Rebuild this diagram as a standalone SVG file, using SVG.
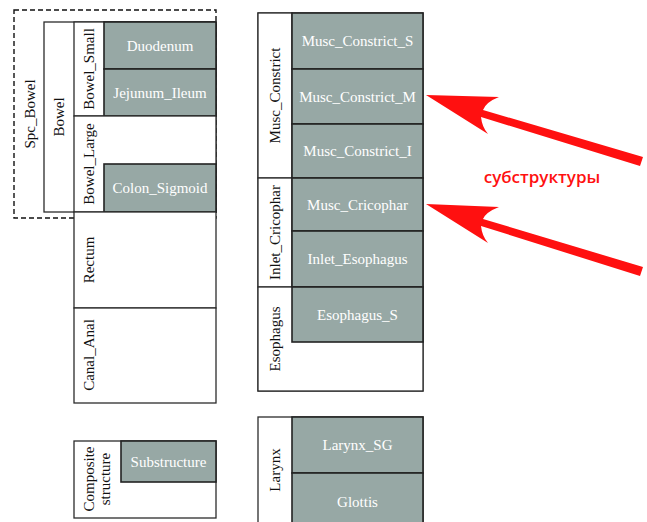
<svg xmlns="http://www.w3.org/2000/svg" width="647" height="522" viewBox="0 0 647 522">
<style>
.w{fill:#fff;stroke:#2b2b2b;stroke-width:1.3}
.g{fill:#97a8a5;stroke:#222;stroke-width:1.6}
.t{font-family:"Liberation Serif","DejaVu Serif",serif;font-size:15px;fill:#fff;text-anchor:middle;dominant-baseline:central}
.l{font-family:"Liberation Serif","DejaVu Serif",serif;font-size:15px;fill:#111;text-anchor:middle;dominant-baseline:central}
.a{fill:#ff1010}
</style>
<rect width="647" height="522" fill="#fff"/>
<g id="spc_bowel">
<rect x="14" y="10" width="202" height="208" fill="none" stroke="#111" stroke-width="1.4" stroke-dasharray="5,3"/>
<text class="l" transform="translate(30,114) rotate(-90)">Spc_Bowel</text>
</g>
<g id="bowel">
<rect class="w" x="44" y="22" width="172" height="190"/>
<text class="l" transform="translate(59,117) rotate(-90)">Bowel</text>
</g>
<g id="bowel_small">
<rect class="w" x="74" y="22" width="142" height="94"/>
<text class="l" transform="translate(89,69) rotate(-90)">Bowel_Small</text>
</g>
<g id="duodenum"><rect class="g" x="104" y="22" width="112" height="47"/><text class="t" x="160" y="45.5">Duodenum</text></g>
<g id="jejunum_ileum"><rect class="g" x="104" y="69" width="112" height="47"/><text class="t" x="160" y="92.5">Jejunum_Ileum</text></g>
<g id="bowel_large">
<rect class="w" x="74" y="116" width="142" height="96"/>
<text class="l" transform="translate(89,164) rotate(-90)">Bowel_Large</text>
</g>
<g id="colon_sigmoid"><rect class="g" x="104" y="164" width="112" height="48"/><text class="t" x="160" y="188">Colon_Sigmoid</text></g>
<g id="rectum">
<rect class="w" x="74" y="212" width="142" height="96"/>
<text class="l" transform="translate(89,260) rotate(-90)">Rectum</text>
</g>
<g id="canal_anal">
<rect class="w" x="74" y="308" width="142" height="95"/>
<text class="l" transform="translate(89,355) rotate(-90)">Canal_Anal</text>
</g>
<g id="composite_structure">
<rect class="w" x="74" y="441" width="142" height="77"/>
<text class="l" transform="translate(89,479) rotate(-90)">Composite</text>
<text class="l" transform="translate(105,479) rotate(-90)">structure</text>
</g>
<g id="substructure"><rect class="g" x="121" y="441" width="95" height="41"/><text class="t" x="168.5" y="461.5">Substructure</text></g>

<g id="outer_right"><rect class="w" x="258" y="13" width="165" height="378"/></g>
<g id="musc_constrict">
<rect class="w" x="258" y="13" width="34" height="165"/>
<text class="l" transform="translate(275,95.5) rotate(-90)">Musc_Constrict</text>
</g>
<g id="musc_constrict_s"><rect class="g" x="292" y="13" width="131" height="56"/><text class="t" x="357.5" y="41">Musc_Constrict_S</text></g>
<g id="musc_constrict_m"><rect class="g" x="292" y="69" width="131" height="55"/><text class="t" x="357.5" y="96.5">Musc_Constrict_M</text></g>
<g id="musc_constrict_i"><rect class="g" x="292" y="124" width="131" height="54"/><text class="t" x="357.5" y="151">Musc_Constrict_I</text></g>
<g id="inlet_cricophar">
<rect class="w" x="258" y="178" width="34" height="109"/>
<text class="l" transform="translate(275,232.5) rotate(-90)">Inlet_Cricophar</text>
</g>
<g id="musc_cricophar"><rect class="g" x="292" y="178" width="131" height="53"/><text class="t" x="357.5" y="204.5">Musc_Cricophar</text></g>
<g id="inlet_esophagus"><rect class="g" x="292" y="231" width="131" height="56"/><text class="t" x="357.5" y="259">Inlet_Esophagus</text></g>
<g id="esophagus">
<rect class="w" x="258" y="287" width="165" height="104"/>
<text class="l" transform="translate(275,339) rotate(-90)">Esophagus</text>
</g>
<g id="esophagus_s"><rect class="g" x="292" y="287" width="131" height="55"/><text class="t" x="357.5" y="314.5">Esophagus_S</text></g>

<g id="larynx">
<rect class="w" x="258" y="417" width="165" height="110"/>
<text class="l" transform="translate(275,470) rotate(-90)">Larynx</text>
</g>
<g id="larynx_sg"><rect class="g" x="292" y="417" width="131" height="56"/><text class="t" x="357.5" y="445">Larynx_SG</text></g>
<g id="glottis"><rect class="g" x="292" y="473" width="131" height="54"/><text class="t" x="357.5" y="502">Glottis</text></g>

<g id="connectors">
<path class="a" d="M426,95 L499,97 Q486,102 483,110 L643,157 L640,166 L481,117 Q482,127 488,134 Z"/>
<path class="a" d="M426,204 L499,207 Q486,212 483,219 L643,267 L640,276 L481,226 Q482,236 488,243 Z"/>
</g>
<g id="label">
<text x="542" y="183" font-family="'Open Sans','Liberation Sans',sans-serif" font-size="17" font-weight="600" fill="#ff1010" text-anchor="middle">субструктуры</text>
</g>
</svg>
